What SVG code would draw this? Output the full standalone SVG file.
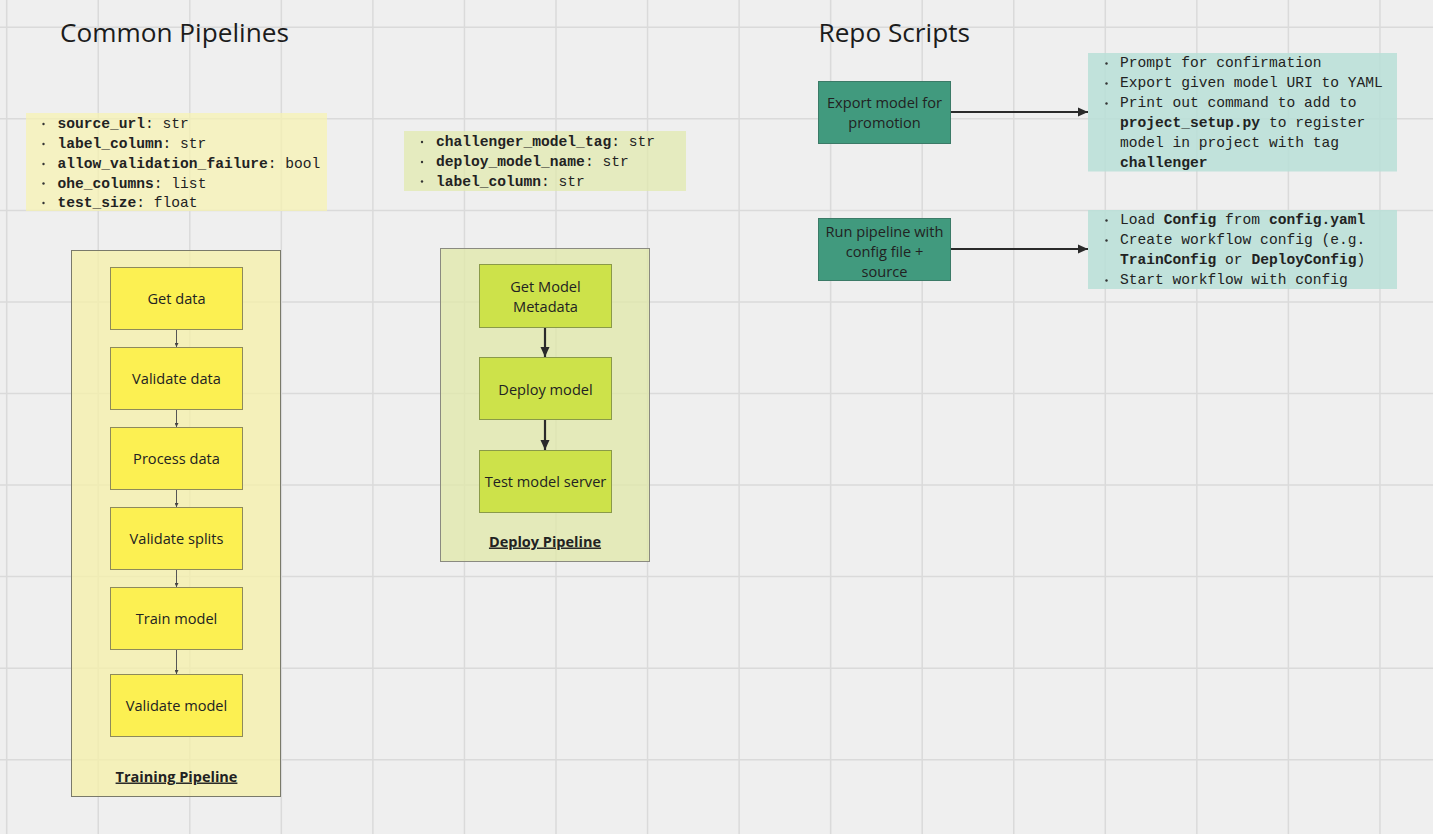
<svg xmlns="http://www.w3.org/2000/svg" width="1433" height="834" viewBox="0 0 1433 834">
<defs>
<style>
.bg{fill:#efefef}
.grid{stroke:#dadada;stroke-width:1.5;fill:none}
.title{font-family:"Open Sans","Noto Sans",sans-serif;font-size:26.2px;fill:#1c1c1c}
.mono{font-family:"Liberation Mono","DejaVu Sans Mono",monospace;font-size:14.6px;fill:#222}
.b{font-weight:bold}
.lbl{font-family:"Open Sans","Noto Sans",sans-serif;font-size:14.6px;fill:#222;text-anchor:middle}
.flbl{font-family:"Open Sans","Noto Sans",sans-serif;font-size:14.5px;font-weight:bold;fill:#222;text-anchor:middle;text-decoration:underline}
.bullet{fill:#333}
.ynote{fill:#f6f2b0;fill-opacity:0.72}
.gnote{fill:#e0e9ac;fill-opacity:0.72}
.tnote{fill:#b8dfd7;fill-opacity:0.85}
.tframe{fill:#f6f0a8;fill-opacity:0.75;stroke:#7a7a6a;stroke-width:1}
.dframe{fill:#e0e8a8;fill-opacity:0.75;stroke:#8a8a80;stroke-width:1}
.ybox{fill:#fcf052;stroke:#8e8a5a;stroke-width:1}
.lbox{fill:#cde24a;stroke:#8a9a48;stroke-width:1}
.tbox{fill:#419a7e;stroke:#3b7a67;stroke-width:1}
.thin{stroke:#555;stroke-width:1;fill:none}
.thick{stroke:#2a2a2a;stroke-width:2.2;fill:none}
</style>
<marker id="ah" markerUnits="userSpaceOnUse" markerWidth="10" markerHeight="10" viewBox="0 0 10 10" refX="10" refY="5" orient="auto">
<path d="M0,0.5 L10,5 L0,9.5 Z" fill="#2a2a2a"/>
</marker>
<marker id="ahs" markerUnits="userSpaceOnUse" markerWidth="4" markerHeight="4" viewBox="0 0 4 4" refX="4" refY="2" orient="auto">
<path d="M0,0 L4,2 L0,4 Z" fill="#444"/>
</marker>
</defs>
<rect class="bg" x="0" y="0" width="1433" height="834"/>
<g id="grid" class="grid">
<path d="M6.7,0V834M98.25,0V834M189.8,0V834M281.35,0V834M372.9,0V834M464.45,0V834M556,0V834M647.55,0V834M739.1,0V834M830.65,0V834M922.2,0V834M1013.75,0V834M1105.3,0V834M1196.85,0V834M1288.4,0V834M1379.95,0V834"/>
<path d="M0,27.3H1433M0,118.85H1433M0,210.4H1433M0,301.95H1433M0,393.5H1433M0,485.05H1433M0,576.6H1433M0,668.15H1433M0,759.7H1433"/>
</g>
<text id="title-common" class="title" x="60" y="42">Common Pipelines</text>
<text id="title-repo" class="title" x="818.5" y="42">Repo Scripts</text>
<g id="note-training-params">
<rect class="ynote" x="26" y="113" width="301" height="98"/>
<circle class="bullet" cx="43.5" cy="124" r="1.2"/>
<circle class="bullet" cx="43.5" cy="144" r="1.2"/>
<circle class="bullet" cx="43.5" cy="164" r="1.2"/>
<circle class="bullet" cx="43.5" cy="183.5" r="1.2"/>
<circle class="bullet" cx="43.5" cy="203" r="1.2"/>
<text class="mono" x="57.5" y="128"><tspan class="b">source_url</tspan>: str</text>
<text class="mono" x="57.5" y="148"><tspan class="b">label_column</tspan>: str</text>
<text class="mono" x="57.5" y="168"><tspan class="b">allow_validation_failure</tspan>: bool</text>
<text class="mono" x="57.5" y="187.5"><tspan class="b">ohe_columns</tspan>: list</text>
<text class="mono" x="57.5" y="207"><tspan class="b">test_size</tspan>: float</text>
</g>
<g id="note-deploy-params">
<rect class="gnote" x="404" y="131" width="282" height="60"/>
<circle class="bullet" cx="422" cy="142" r="1.2"/>
<circle class="bullet" cx="422" cy="162" r="1.2"/>
<circle class="bullet" cx="422" cy="181.5" r="1.2"/>
<text class="mono" x="436" y="146"><tspan class="b">challenger_model_tag</tspan>: str</text>
<text class="mono" x="436" y="166"><tspan class="b">deploy_model_name</tspan>: str</text>
<text class="mono" x="436" y="185.5"><tspan class="b">label_column</tspan>: str</text>
</g>
<g id="frame-training">
<rect class="tframe" x="71.5" y="250.5" width="209" height="546"/>
<text class="flbl" x="176.5" y="781.5">Training Pipeline</text>
</g>
<g id="frame-deploy">
<rect class="dframe" x="440.5" y="248.5" width="209" height="313"/>
<text class="flbl" x="545" y="546.5">Deploy Pipeline</text>
</g>
<g id="connectors">
<line class="thin" x1="176.5" y1="329.5" x2="176.5" y2="347" marker-end="url(#ahs)"/>
<line class="thin" x1="176.5" y1="409.5" x2="176.5" y2="427" marker-end="url(#ahs)"/>
<line class="thin" x1="176.5" y1="489.5" x2="176.5" y2="507" marker-end="url(#ahs)"/>
<line class="thin" x1="176.5" y1="569.5" x2="176.5" y2="587" marker-end="url(#ahs)"/>
<line class="thin" x1="176.5" y1="649.5" x2="176.5" y2="674" marker-end="url(#ahs)"/>
<line class="thick" x1="545" y1="327.5" x2="545" y2="357" marker-end="url(#ah)"/>
<line class="thick" x1="545" y1="419.5" x2="545" y2="450" marker-end="url(#ah)"/>
<line class="thick" x1="950.5" y1="112" x2="1088" y2="112" marker-end="url(#ah)"/>
<line class="thick" x1="950.5" y1="249" x2="1088" y2="249" marker-end="url(#ah)"/>
</g>
<g id="node-get-data"><rect class="ybox" x="110.5" y="267.5" width="132" height="62"/><text class="lbl" x="176.5" y="303.5">Get data</text></g>
<g id="node-validate-data"><rect class="ybox" x="110.5" y="347.5" width="132" height="62"/><text class="lbl" x="176.5" y="383.5">Validate data</text></g>
<g id="node-process-data"><rect class="ybox" x="110.5" y="427.5" width="132" height="62"/><text class="lbl" x="176.5" y="463.5">Process data</text></g>
<g id="node-validate-splits"><rect class="ybox" x="110.5" y="507.5" width="132" height="62"/><text class="lbl" x="176.5" y="543.5">Validate splits</text></g>
<g id="node-train-model"><rect class="ybox" x="110.5" y="587.5" width="132" height="62"/><text class="lbl" x="176.5" y="623.5">Train model</text></g>
<g id="node-validate-model"><rect class="ybox" x="110.5" y="674.5" width="132" height="62"/><text class="lbl" x="176.5" y="711">Validate model</text></g>
<g id="node-get-model-metadata"><rect class="lbox" x="479.5" y="264.5" width="132" height="63"/><text class="lbl" x="545.5" y="292">Get Model</text><text class="lbl" x="545.5" y="312">Metadata</text></g>
<g id="node-deploy-model"><rect class="lbox" x="479.5" y="357.5" width="132" height="62"/><text class="lbl" x="545.5" y="394.5">Deploy model</text></g>
<g id="node-test-model-server"><rect class="lbox" x="479.5" y="450.5" width="132" height="62"/><text class="lbl" x="545.5" y="486.5">Test model server</text></g>
<g id="node-export-model"><rect class="tbox" x="818.5" y="81.5" width="132" height="62"/><text class="lbl" x="884.5" y="108">Export model for</text><text class="lbl" x="884.5" y="128">promotion</text></g>
<g id="node-run-pipeline"><rect class="tbox" x="818.5" y="218.5" width="132" height="62"/><text class="lbl" x="884.5" y="237">Run pipeline with</text><text class="lbl" x="884.5" y="257">config file +</text><text class="lbl" x="884.5" y="277">source</text></g>
<g id="note-export">
<rect class="tnote" x="1088" y="53" width="309" height="118.5"/>
<circle class="bullet" cx="1106.5" cy="63.5" r="1.2"/>
<circle class="bullet" cx="1106.5" cy="83.5" r="1.2"/>
<circle class="bullet" cx="1106.5" cy="103.5" r="1.2"/>
<text class="mono" x="1120" y="67">Prompt for confirmation</text>
<text class="mono" x="1120" y="87">Export given model URI to YAML</text>
<text class="mono" x="1120" y="107">Print out command to add to</text>
<text class="mono" x="1120" y="127"><tspan class="b">project_setup.py</tspan> to register</text>
<text class="mono" x="1120" y="147">model in project with tag</text>
<text class="mono" x="1120" y="167"><tspan class="b">challenger</tspan></text>
</g>
<g id="note-run">
<rect class="tnote" x="1088" y="210" width="309" height="79"/>
<circle class="bullet" cx="1106.5" cy="220.5" r="1.2"/>
<circle class="bullet" cx="1106.5" cy="240.5" r="1.2"/>
<circle class="bullet" cx="1106.5" cy="280.5" r="1.2"/>
<text class="mono" x="1120" y="224">Load <tspan class="b">Config</tspan> from <tspan class="b">config.yaml</tspan></text>
<text class="mono" x="1120" y="244">Create workflow config (e.g.</text>
<text class="mono" x="1120" y="264"><tspan class="b">TrainConfig</tspan> or <tspan class="b">DeployConfig</tspan>)</text>
<text class="mono" x="1120" y="284">Start workflow with config</text>
</g>
</svg>
